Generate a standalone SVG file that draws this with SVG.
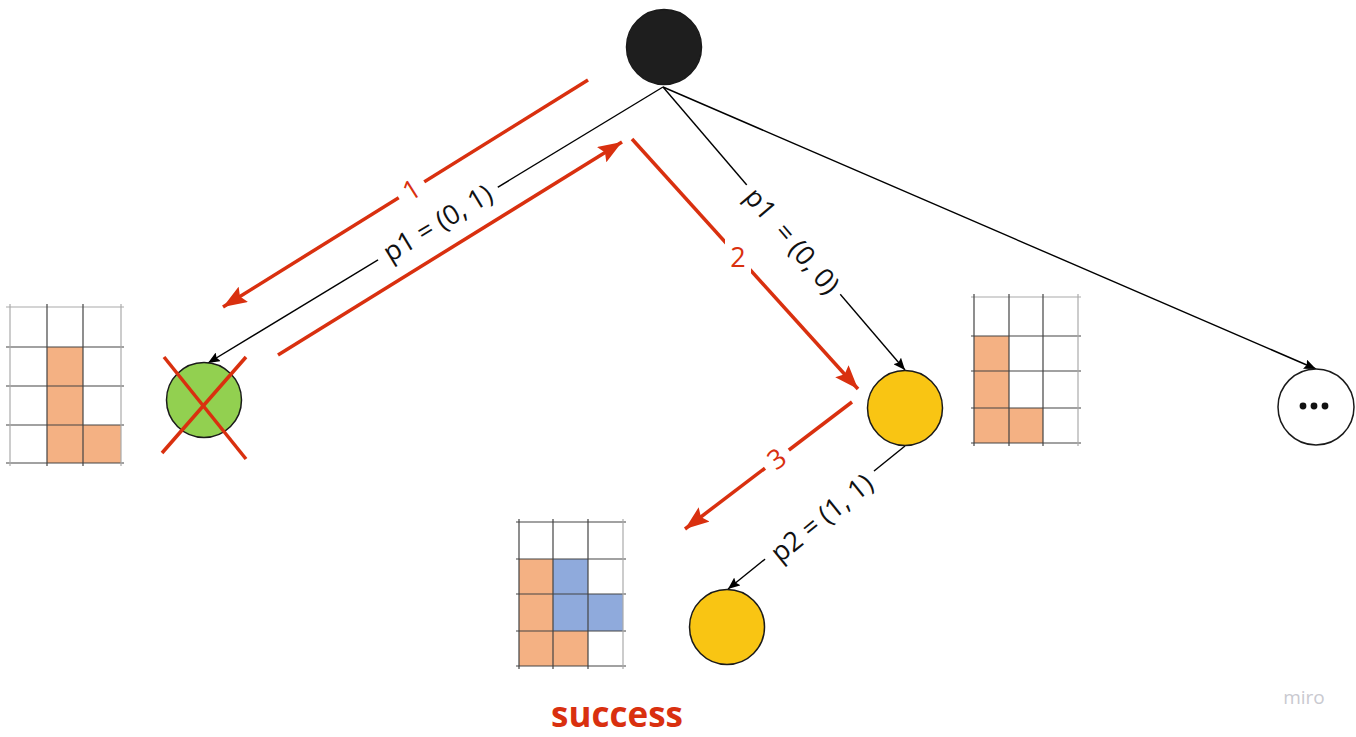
<svg xmlns="http://www.w3.org/2000/svg" width="1356" height="737" viewBox="0 0 1356 737">
<defs>
<style>
.edge{stroke:#000;stroke-width:1.4;fill:none;marker-end:url(#ab)}
.red{stroke:#D9300F;stroke-width:3.5;fill:none}
.redarrow{marker-end:url(#ar)}
.lbl{font-family:"Open Sans","Liberation Sans",sans-serif;font-size:27px;fill:#111;text-anchor:middle;dominant-baseline:central;white-space:pre}
.rlbl{font-family:"Open Sans","Liberation Sans",sans-serif;font-size:27px;fill:#D9300F;text-anchor:middle;dominant-baseline:central}
.bg{fill:#fff}
.grid{stroke:#444;stroke-width:1.2}
.gridl{stroke:#aaa;stroke-width:1.2}
.org{fill:#F4B183}
.blu{fill:#8FAADC}
.node{stroke:#1a1a1a;stroke-width:1.5}
</style>
<marker id="ab" markerUnits="userSpaceOnUse" markerWidth="12" markerHeight="10" refX="12" refY="5" orient="auto"><path d="M0,0 L12,5 L0,10 L2,5 z" fill="#000"/></marker>
<marker id="ar" markerUnits="userSpaceOnUse" markerWidth="24" markerHeight="18" refX="24" refY="9" orient="auto"><path d="M0,0 L24,9 L0,18 L4,9 z" fill="#D9300F"/></marker>
</defs>
<rect width="1356" height="737" fill="#fff"/>

<g id="connectors">
<line class="edge" x1="663" y1="87" x2="208" y2="363"/>
<line class="edge" x1="663" y1="87" x2="905" y2="370"/>
<line class="edge" x1="663" y1="87" x2="1316" y2="369"/>
<line class="edge" x1="905" y1="446" x2="728" y2="589"/>
<line class="red redarrow" x1="588" y1="80" x2="223" y2="307"/>
<line class="red redarrow" x1="278" y1="355" x2="622" y2="142"/>
<line class="red redarrow" x1="632" y1="139" x2="858" y2="389"/>
<line class="red redarrow" x1="852" y1="402" x2="685" y2="529"/>
<g transform="translate(437,222) rotate(-31.2)"><rect class="bg" x="-70" y="-15" width="140" height="30"/><text class="lbl">p1 = (0, 1)</text></g>
<g transform="translate(793,240) rotate(49.6)"><rect class="bg" x="-72" y="-15" width="144" height="30"/><text class="lbl">p1  = (0, 0)</text></g>
<g transform="translate(821,517) rotate(-39)"><rect class="bg" x="-70" y="-15" width="140" height="30"/><text class="lbl">p2 = (1, 1)</text></g>
<g transform="translate(411,189) rotate(-32)"><rect class="bg" x="-15" y="-16" width="30" height="32"/><text class="rlbl">1</text></g>
<g transform="translate(738,256)"><rect class="bg" x="-13" y="-18" width="26" height="36"/><text class="rlbl">2</text></g>
<g transform="translate(776,458) rotate(-37)"><rect class="bg" x="-15" y="-16" width="30" height="32"/><text class="rlbl">3</text></g>
</g>

<g id="root"><circle class="node" cx="664" cy="47" r="37.5" fill="#1E1E1E"/></g>

<g id="green-node">
<circle class="node" cx="204" cy="400" r="37.5" fill="#92D050"/>
<line class="red" x1="164" y1="357" x2="246" y2="459"/>
<line class="red" x1="246" y1="357" x2="162" y2="453"/>
</g>

<g id="yellow-node"><circle class="node" cx="905" cy="408" r="37.5" fill="#F9C513"/></g>
<g id="yellow-node-2"><circle class="node" cx="727" cy="627" r="37.5" fill="#F9C513"/></g>
<g id="more-node">
<circle class="node" cx="1316" cy="407" r="38" fill="#fff"/>
<circle cx="1303" cy="406" r="3.4" fill="#111"/>
<circle cx="1314" cy="406" r="3.4" fill="#111"/>
<circle cx="1325" cy="406" r="3.4" fill="#111"/>
</g>

<g id="grid-left">
<rect class="org" x="47" y="347" width="36" height="116"/>
<rect class="org" x="83" y="425" width="38" height="38"/>
<line class="gridl" x1="6" y1="307" x2="124" y2="307"/>
<line class="grid" x1="6" y1="347" x2="124" y2="347"/>
<line class="grid" x1="6" y1="386" x2="124" y2="386"/>
<line class="grid" x1="6" y1="425" x2="124" y2="425"/>
<line class="grid" x1="6" y1="463" x2="124" y2="463"/>
<line class="gridl" x1="10" y1="304" x2="10" y2="466"/>
<line class="grid" x1="47" y1="304" x2="47" y2="466"/>
<line class="grid" x1="83" y1="304" x2="83" y2="466"/>
<line class="gridl" x1="121" y1="304" x2="121" y2="466"/>
</g>

<g id="grid-right">
<rect class="org" x="974" y="336" width="35" height="107"/>
<rect class="org" x="1009" y="408" width="34" height="35"/>
<line class="gridl" x1="971" y1="297" x2="1081" y2="297"/>
<line class="grid" x1="971" y1="336" x2="1081" y2="336"/>
<line class="grid" x1="971" y1="371" x2="1081" y2="371"/>
<line class="grid" x1="971" y1="408" x2="1081" y2="408"/>
<line class="grid" x1="971" y1="443" x2="1081" y2="443"/>
<line class="grid" x1="974" y1="294" x2="974" y2="446"/>
<line class="grid" x1="1009" y1="294" x2="1009" y2="446"/>
<line class="grid" x1="1043" y1="294" x2="1043" y2="446"/>
<line class="gridl" x1="1078" y1="294" x2="1078" y2="446"/>
</g>

<g id="grid-bottom">
<rect class="org" x="519" y="559" width="34" height="107"/>
<rect class="org" x="553" y="631" width="35" height="35"/>
<rect class="blu" x="553" y="559" width="35" height="72"/>
<rect class="blu" x="588" y="594" width="35" height="37"/>
<line class="grid" x1="516" y1="522" x2="626" y2="522"/>
<line class="grid" x1="516" y1="559" x2="626" y2="559"/>
<line class="grid" x1="516" y1="594" x2="626" y2="594"/>
<line class="grid" x1="516" y1="631" x2="626" y2="631"/>
<line class="grid" x1="516" y1="666" x2="626" y2="666"/>
<line class="grid" x1="519" y1="519" x2="519" y2="669"/>
<line class="grid" x1="553" y1="519" x2="553" y2="669"/>
<line class="grid" x1="588" y1="519" x2="588" y2="669"/>
<line class="gridl" x1="623" y1="519" x2="623" y2="669"/>
</g>

<text id="success" x="617" y="727" font-family="'Open Sans','Liberation Sans',sans-serif" font-size="35" font-weight="bold" fill="#D9300F" text-anchor="middle">success</text>
<text id="miro" x="1304" y="704" font-family="'Open Sans','Liberation Sans',sans-serif" font-size="19" fill="#C9C9D0" text-anchor="middle">miro</text>
</svg>
